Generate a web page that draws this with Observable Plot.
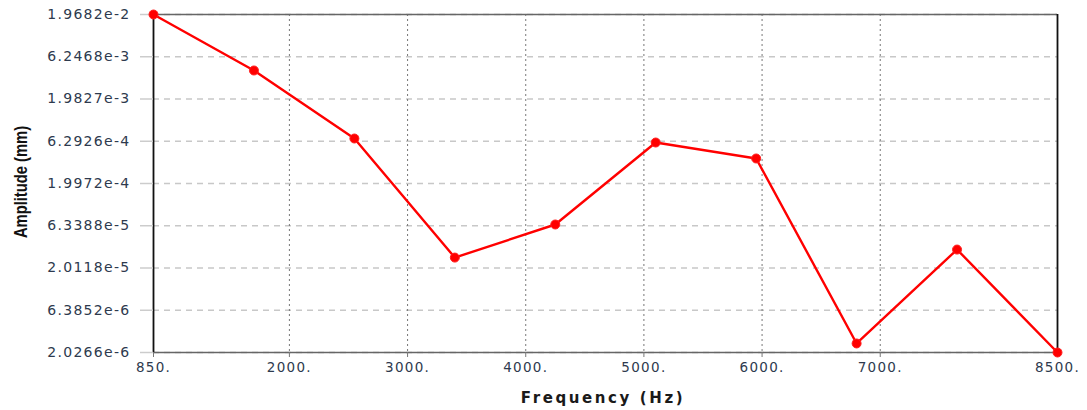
<!DOCTYPE html>
<html>
<head>
<meta charset="utf-8">
<script src="https://cdn.jsdelivr.net/npm/d3@7"></script>
<script src="https://cdn.jsdelivr.net/npm/@observablehq/plot@0.6"></script>
<style>
  html, body { margin: 0; padding: 0; background: #fff; }
  svg text { font-family: "DejaVu Sans", Verdana, sans-serif; }
</style>
</head>
<body>
<div id="chart"></div>
<script>
const frequency = [850, 1700, 2550, 3400, 4250, 5100, 5950, 6800, 7650, 8500];
const amplitude = [1.9682e-2, 4.30e-3, 6.78e-4, 2.67e-5, 6.56e-5, 6.08e-4, 3.94e-4, 2.59e-6, 3.32e-5, 2.0266e-6];
const xTicks = [850, 2000, 3000, 4000, 5000, 6000, 7000, 8500];
const xGrid = [2000, 3000, 4000, 5000, 6000, 7000];
const yTicks = [2.0266e-6, 6.3852e-6, 2.0118e-5, 6.3388e-5, 1.9972e-4, 6.2926e-4, 1.9827e-3, 6.2468e-3, 1.9682e-2];

const data = frequency.map((f, i) => ({f, a: amplitude[i]}));
const xDomain = [frequency[0], frequency[frequency.length - 1]];
const yDomain = [yTicks[0], yTicks[yTicks.length - 1]];

const chart = Plot.plot({
  width: 1087,
  height: 410,
  marginLeft: 153,
  marginRight: 30,
  marginTop: 14,
  marginBottom: 58,
  style: {background: "#fff", overflow: "visible"},
  x: {type: "linear", domain: xDomain, label: null},
  y: {type: "log", domain: yDomain, label: null},
  marks: [
    Plot.ruleY(yTicks, {stroke: "#c8c8c8", strokeWidth: 1.5, strokeDasharray: "6,5"}),
    Plot.ruleX(xGrid, {stroke: "#777", strokeWidth: 1, strokeDasharray: "2,3"}),
    Plot.ruleY([yDomain[0], yDomain[1]], {stroke: "#666", strokeWidth: 1.5}),
    Plot.ruleX([xDomain[0], xDomain[1]], {stroke: "#111", strokeWidth: 1.8}),
    Plot.axisX({ticks: xTicks, tickFormat: d => d + ".", tickSize: 5, tickPadding: 5, stroke: "#777", fill: "#2e3a4e", fontSize: 13.5, label: null}),
    Plot.axisY({ticks: yTicks, tickFormat: () => "", tickSize: 13, stroke: "#ccc", strokeWidth: 1.5, label: null}),
    Plot.text(yTicks, {y: d => d, frameAnchor: "left", dx: -23, textAnchor: "end", text: d => d.toExponential(4), fill: "#2e3a4e", fontSize: 14}),
    Plot.line(data, {x: "f", y: "a", stroke: "#ff0000", strokeWidth: 2.4}),
    Plot.dot(data, {x: "f", y: "a", r: 4.5, fill: "#ff0000", stroke: "#ff2020", strokeWidth: 1})
  ]
});

const svg = d3.select(chart);
svg.selectAll("text").style("letter-spacing", "1.3px");
svg.append("text")
  .attr("x", 603).attr("y", 403)
  .attr("text-anchor", "middle")
  .attr("font-size", 15).attr("font-weight", "bold")
  .style("letter-spacing", "2.6px")
  .attr("fill", "#1a1a1a")
  .text("Frequency (Hz)");
svg.append("text")
  .attr("transform", "translate(27,182) rotate(-90) scale(0.82,1)")
  .attr("text-anchor", "middle")
  .attr("font-size", 18).attr("font-weight", "bold")
  .style("font-family", "'Liberation Sans Narrow', 'Liberation Sans', Arial, sans-serif")
  .attr("fill", "#111")
  .text("Amplitude (mm)");

document.getElementById("chart").appendChild(chart);
</script>
</body>
</html>
